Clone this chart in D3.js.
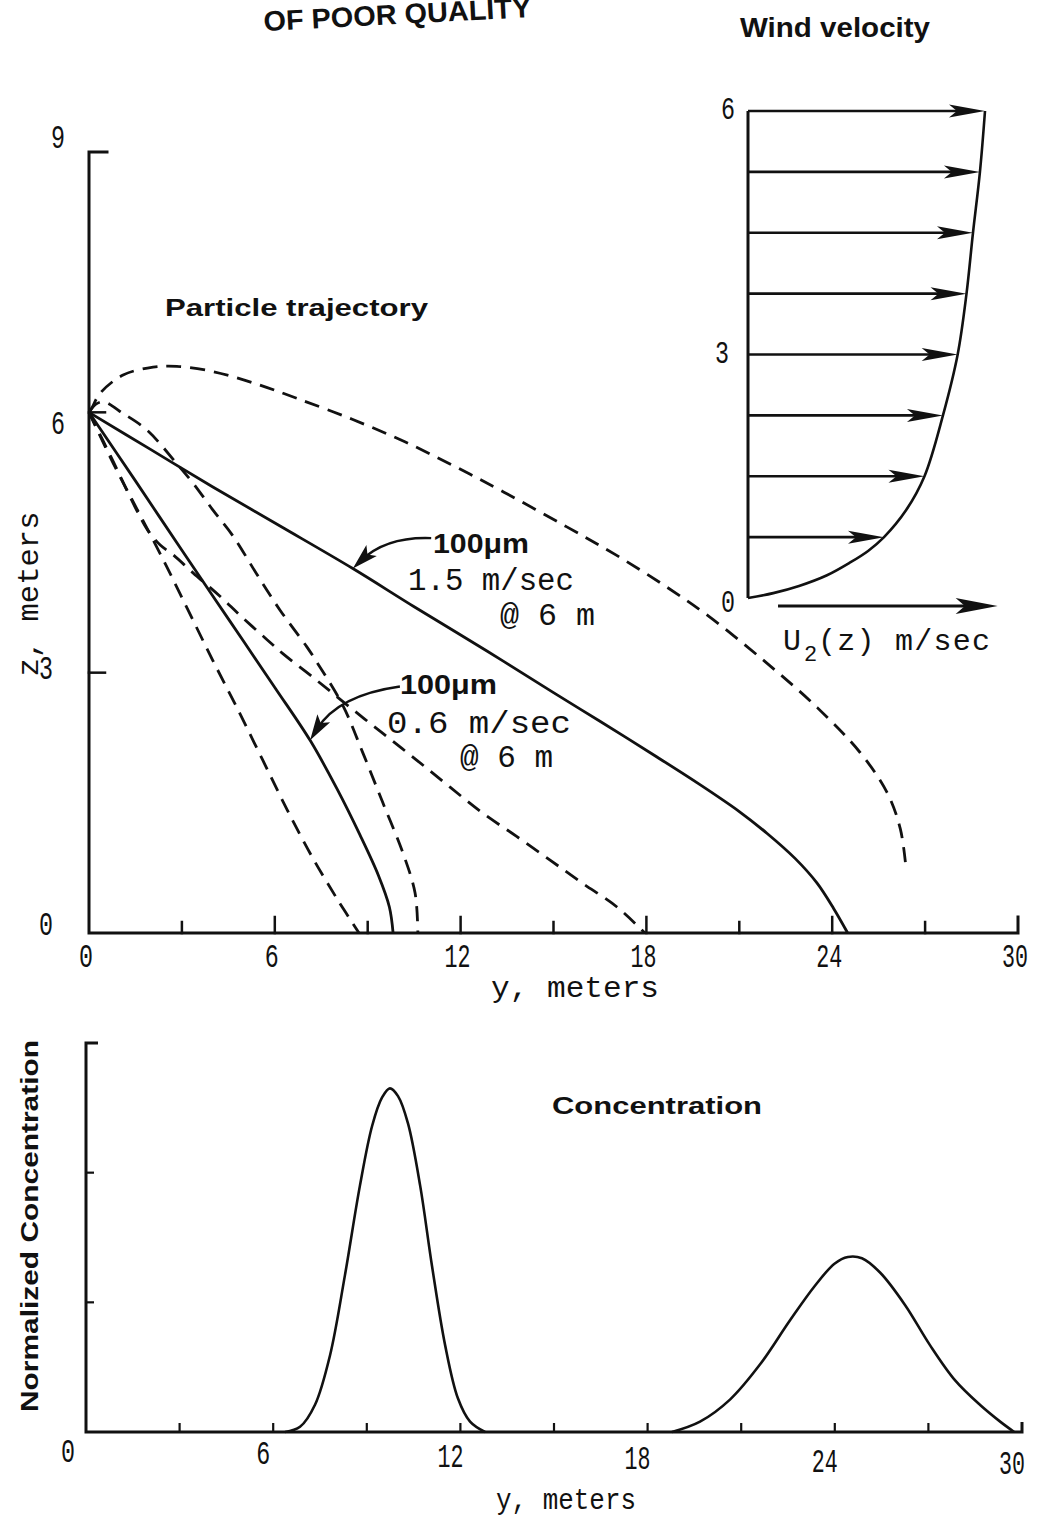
<!DOCTYPE html>
<html><head><meta charset="utf-8">
<script src="https://cdn.jsdelivr.net/npm/d3@7"></script>
<style>body{margin:0;background:#fff} svg{display:block}</style>
</head><body>
<svg id="c" width="1046" height="1517"></svg>
<script>
// ---------------- data ----------------
const yTickValues = [0,3,6,9,12,15,18,21,24,27,30];
const yTickLabels = [0,6,12,18,24,30];
const zTickLabels = [0,3,6,9];
const zTickMarks = [3,6];
const windTickLabels = [0,3,6];

// wind profile (inset)
const windZ = [0.75,1.5,2.25,3,3.75,4.5,5.25,6];
const windU = [0.861,1.117,1.234,1.327,1.383,1.424,1.468,1.5];
const profileU = [0,0.16,0.323,0.5,0.64,0.76,0.861,1.0,1.117,1.234,1.327,1.383,1.424,1.468,1.5];
const profileZ = [0,0.06,0.148,0.28,0.43,0.58,0.75,1.08,1.5,2.25,3,3.75,4.5,5.25,6];

// particle trajectories: [y, z] in meters
const trajLoopDashed = [[0,6],[0.09,6.05],[0.36,6.22],[1.1,6.43],[2.07,6.52],[2.84,6.53],[4.0,6.47],[5.3,6.34],[6.72,6.16],[8.5,5.92],[10.2,5.66],[11.8,5.38],[13.4,5.08],[15.43,4.68],[17.0,4.36],[18.6,4.0],[20.05,3.64],[21.89,3.11],[23.51,2.6],[24.9,2.08],[25.77,1.62],[26.2,1.2],[26.38,0.76]];
const traj15Solid = [[0,6],[2,5.57],[4,5.14],[6.17,4.69],[8.52,4.2],[10.5,3.76],[12.85,3.25],[15,2.77],[16.5,2.44],[18.2,2.06],[19.73,1.71],[21,1.4],[21.89,1.15],[22.8,0.86],[23.5,0.58],[24.05,0.28],[24.5,0]];
const trajBumpDashed = [[0,6],[0.25,6.1],[0.5,6.12],[1.0,6.01],[1.86,5.8],[2.83,5.41],[3.37,5.18],[4.01,4.87],[4.66,4.57],[5.41,4.14],[6.17,3.72],[7.03,3.3],[7.36,3.12],[8.2,2.62],[8.85,2.07],[9.49,1.5],[10.14,0.92],[10.53,0.46],[10.62,0]];
const traj06Solid = [[0,6],[1.5,5.21],[3,4.41],[4.5,3.62],[6,2.83],[7.14,2.22],[8.01,1.66],[8.75,1.13],[9.35,0.66],[9.7,0.3],[9.82,0]];
const trajSteepDashed = [[0,6],[0.8,5.4],[1.6,4.85],[2.4,4.3],[3.2,3.72],[4.0,3.14],[4.8,2.58],[5.6,2.0],[6.4,1.42],[7.2,0.88],[8.0,0.4],[8.72,0]];
const trajLongDashed = [[0,6],[0.8,5.42],[1.5,4.9],[1.9,4.64],[2.3,4.47],[2.71,4.36],[3.36,4.15],[4.23,3.88],[4.88,3.66],[5.75,3.38],[6.26,3.22],[7.36,2.91],[8.43,2.6],[9.49,2.3],[10.59,1.99],[11.66,1.68],[12.72,1.38],[13.82,1.11],[14.89,0.84],[15.91,0.58],[17.05,0.3],[17.95,0]];

// annotation pointers: [start, control, tip] in [y, z]
const pointer15 = [[11.05,4.55],[9.6,4.57],[8.52,4.2]];
const pointer06 = [[10.04,2.84],[8.04,2.74],[7.14,2.22]];

// concentration
const concTicksX = [0,3,6,9,12,15,18,21,24,27,30];
const concTickLabels = [0,6,12,18,24,30];
const concTicksY = [1,2];
const peak1Y = [6.38,6.86,7.34,7.82,8.30,8.78,9.17,9.49,9.74,10.0,10.32,10.71,11.09,11.51,11.92,12.31,12.79];
const peak1C = [0,0.04,0.21,0.59,1.21,1.90,2.36,2.58,2.65,2.59,2.38,1.90,1.28,0.67,0.26,0.08,0];
const peak2Y = [18.78,19.68,20.64,21.6,22.56,23.37,24.0,24.42,24.87,25.45,26.25,27.05,27.85,28.65,29.3,29.75];
const peak2C = [0,0.08,0.25,0.52,0.86,1.13,1.30,1.35,1.34,1.23,0.98,0.67,0.40,0.21,0.08,0];

// ---------------- drawing ----------------
const svg = d3.select("#c");
const MONO = "'Liberation Mono','DejaVu Sans Mono',monospace";
const SANS = "'Liberation Sans',Arial,sans-serif";
const ink = "#111";

function txt(x, y, s, o = {}) {
  const t = svg.append("text").attr("x", x).attr("y", y)
    .attr("font-family", o.family || MONO)
    .attr("font-size", o.size || 26)
    .attr("font-weight", o.weight || "normal")
    .attr("text-anchor", o.anchor || "start")
    .attr("fill", ink).text(s);
  if (o.len) t.attr("textLength", o.len).attr("lengthAdjust", o.adj || "spacingAndGlyphs");
  if (o.transform) t.attr("transform", o.transform);
  return t;
}
function head(tx, ty, ang, len, hw) {
  const c = Math.cos(ang), s = Math.sin(ang);
  const bx = tx - c * len, by = ty - s * len, nx = -s, ny = c;
  const mx = tx - c * len * 0.78, my = ty - s * len * 0.78;
  svg.append("path")
    .attr("d", `M${tx},${ty}L${bx + nx * hw},${by + ny * hw}L${mx},${my}L${bx - nx * hw},${by - ny * hw}Z`)
    .attr("fill", ink);
}
const numLen = v => (String(v).length > 1 ? 26 : 14);

// ---- header texts ----
txt(264, 31, "OF POOR QUALITY", {family: SANS, weight: "bold", size: 28, len: 268, transform: "rotate(-3,264,31)"});
txt(740, 37, "Wind velocity", {family: SANS, weight: "bold", size: 28, len: 190});

// ---- trajectory plot ----
const xT = d3.scaleLinear().domain([0, 30]).range([89, 1018]);
const zT = d3.scaleLinear().domain([0, 9]).range([933, 152]);
const gA = svg.append("g").attr("stroke", ink).attr("fill", "none").attr("stroke-linecap", "square");
gA.append("path").attr("stroke-width", 3)
  .attr("d", `M${xT(0) + 18},${zT(9)}H${xT(0)}V${zT(0)}H${xT(30)}V${zT(0) - 16}`);
yTickValues.filter(v => v > 0 && v < 30).forEach(v => {
  gA.append("line").attr("stroke-width", 2.5)
    .attr("x1", xT(v)).attr("x2", xT(v)).attr("y1", zT(0)).attr("y2", zT(0) - (v % 6 === 0 ? 16 : 11));
});
zTickMarks.forEach(v => {
  gA.append("line").attr("stroke-width", 2.5)
    .attr("x1", xT(0)).attr("x2", xT(0) + 16).attr("y1", zT(v)).attr("y2", zT(v));
});
yTickLabels.forEach(v => {
  txt(xT(v) - 3, zT(0) + 34, String(v), {size: 33, anchor: "middle", len: numLen(v)});
});
zTickLabels.forEach(v => {
  const dy = v === 9 ? -4 : v === 6 ? 22 : v === 3 ? 6 : 2;
  txt(v >= 6 ? 58 : 46, zT(v) + dy, String(v), {size: 33, anchor: "middle", len: 14});
});
txt(575, 997, "y, meters", {size: 30, anchor: "middle", len: 168});
txt(0, 0, "z, meters", {size: 30, anchor: "middle", len: 165, transform: "translate(38,594) rotate(-90)"});

const lineT = d3.line().x(d => xT(d[0])).y(d => zT(d[1])).curve(d3.curveCatmullRom.alpha(0.5));
const gT = svg.append("g").attr("fill", "none").attr("stroke", ink).attr("stroke-width", 2.8);
[[trajLoopDashed, true], [traj15Solid, false], [trajBumpDashed, true], [traj06Solid, false],
 [trajSteepDashed, true], [trajLongDashed, true]].forEach(([d, dashed]) => {
  const p = gT.append("path").attr("d", lineT(d));
  if (dashed) p.attr("stroke-dasharray", "15,9");
});

// pointers
[pointer15, pointer06].forEach(pt => {
  const [s, c, t] = pt.map(p => [xT(p[0]), zT(p[1])]);
  gT.append("path").attr("stroke-width", 2.4).attr("d", `M${s[0]},${s[1]}Q${c[0]},${c[1]} ${t[0] + (c[0]-t[0])*0.25},${t[1] + (c[1]-t[1])*0.25}`);
  head(t[0], t[1], Math.atan2(t[1] - c[1], t[0] - c[0]), 26, 7.5);
});

txt(165, 316, "Particle trajectory", {family: SANS, weight: "bold", size: 24, len: 263});
txt(433, 553, "100\u03bcm", {family: SANS, weight: "bold", size: 28, len: 96});
txt(408, 590, "1.5 m/sec", {size: 31, len: 166});
txt(500, 625, "@ 6 m", {size: 31, len: 95});
txt(400, 694, "100\u03bcm", {family: SANS, weight: "bold", size: 28, len: 97});
txt(387, 733, "0.6  m/sec", {size: 31, len: 184});
txt(460, 767, "@ 6 m", {size: 31, len: 93});

// ---- wind inset ----
const uW = d3.scaleLinear().domain([0, 1.5]).range([748, 985]);
const zW = d3.scaleLinear().domain([0, 6]).range([598, 111]);
const gW = svg.append("g").attr("stroke", ink).attr("fill", "none");
gW.append("line").attr("stroke-width", 3).attr("x1", uW(0)).attr("x2", uW(0)).attr("y1", zW(0)).attr("y2", zW(6));
gW.append("path").attr("stroke-width", 2.6)
  .attr("d", d3.line().x((d, i) => uW(profileU[i])).y(d => zW(d)).curve(d3.curveCatmullRom.alpha(0.5))(profileZ));
windZ.forEach((z, i) => {
  gW.append("line").attr("stroke-width", 2.6).attr("x1", uW(0)).attr("x2", uW(windU[i]) - 20).attr("y1", zW(z)).attr("y2", zW(z));
  head(uW(windU[i]), zW(z), 0, 36, 6.5);
});
windTickLabels.forEach(v => txt(v === 3 ? 722 : 728, zW(v) + (v === 0 ? 14 : 8), String(v), {size: 32, anchor: "middle", len: 14}));
gW.append("line").attr("stroke-width", 2.8).attr("x1", uW(0.19)).attr("x2", uW(1.58) - 25).attr("y1", zW(0) + 8).attr("y2", zW(0) + 8);
head(uW(1.58), zW(0) + 8, 0, 42, 8);
txt(783, 650, "U", {size: 30});
svg.append("text").attr("x", 804).attr("y", 661).attr("font-family", MONO).attr("font-size", 22).attr("fill", ink).text("2");
txt(818, 650, "(z) m/sec", {size: 30, len: 172, adj: "spacing"});

// ---- concentration plot ----
const xB = d3.scaleLinear().domain([0, 30]).range([86, 1022]);
const cB = d3.scaleLinear().domain([0, 3]).range([1432, 1043]);
const gB = svg.append("g").attr("stroke", ink).attr("fill", "none");
gB.append("path").attr("stroke-width", 3)
  .attr("d", `M${xB(0) + 12},${cB(3)}H${xB(0)}V${cB(0)}H${xB(30)}V${cB(0) - 10}`);
concTicksX.filter(v => v > 0 && v < 30).forEach(v => {
  gB.append("line").attr("stroke-width", 2.2).attr("x1", xB(v)).attr("x2", xB(v)).attr("y1", cB(0)).attr("y2", cB(0) - 9);
});
concTicksY.forEach(v => {
  gB.append("line").attr("stroke-width", 2.2).attr("x1", xB(0)).attr("x2", xB(0) + 8).attr("y1", cB(v)).attr("y2", cB(v));
});
concTickLabels.forEach(v => {
  txt(xB(v) - (v === 0 ? 18 : 10), cB(0) + 30 + v * 0.4, String(v), {size: 33, anchor: "middle", len: numLen(v)});
});
txt(566, 1509, "y, meters", {size: 30, anchor: "middle", len: 140});
txt(0, 0, "Normalized  Concentration", {family: SANS, weight: "bold", size: 24, anchor: "middle", len: 372, transform: "translate(38,1226) rotate(-90)"});
txt(552, 1114, "Concentration", {family: SANS, weight: "bold", size: 24, len: 210});

const lineB = d3.line().curve(d3.curveCatmullRom.alpha(0.5));
const gC = svg.append("g").attr("fill", "none").attr("stroke", ink).attr("stroke-width", 2.6);
gC.append("path").attr("d", lineB(peak1Y.map((y, i) => [xB(y), cB(peak1C[i])])));
gC.append("path").attr("d", lineB(peak2Y.map((y, i) => [xB(y), cB(peak2C[i])])));
</script>
</body></html>
